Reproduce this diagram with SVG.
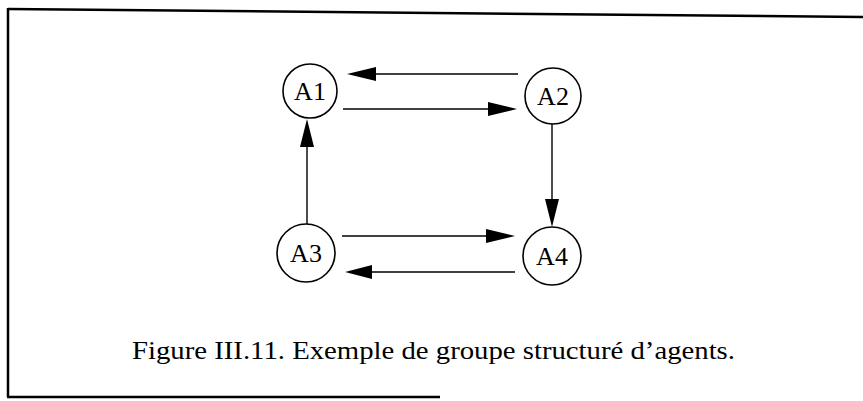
<svg xmlns="http://www.w3.org/2000/svg" width="863" height="401" viewBox="0 0 863 401">
<style>
.node circle{fill:#fff;stroke:#000;stroke-width:1.6}
.node text{font-family:"Liberation Serif","Times New Roman",serif;font-size:26px;fill:#000;text-anchor:middle}
.edge{stroke:#000;stroke-width:1.4;fill:none}
.head{fill:#000;stroke:none}
.frame{stroke:#000;stroke-width:2.5;fill:none}
.caption{font-family:"Liberation Serif","Times New Roman",serif;font-size:26px;fill:#000}
</style>
<rect x="0" y="0" width="863" height="401" fill="#fff"/>
<g id="frame">
<line class="frame" x1="8" y1="9" x2="863" y2="17"/>
<line class="frame" x1="8" y1="8" x2="8" y2="397"/>
<line class="frame" x1="7" y1="397" x2="440" y2="397"/>
</g>
<g id="connectors">
<line class="edge" x1="518" y1="74" x2="372" y2="74"/>
<polygon class="head" points="347,74 376,67 376,81"/>
<line class="edge" x1="343" y1="109" x2="490" y2="109"/>
<polygon class="head" points="517,109 488,102 488,116"/>
<line class="edge" x1="342" y1="236" x2="489" y2="236"/>
<polygon class="head" points="515,236 486,229 486,243"/>
<line class="edge" x1="515" y1="272" x2="368" y2="272"/>
<polygon class="head" points="345,272 372,265 372,279"/>
<line class="edge" x1="307" y1="224" x2="307" y2="144"/>
<polygon class="head" points="307,119 300,147 314,147"/>
<line class="edge" x1="552" y1="124" x2="552" y2="202"/>
<polygon class="head" points="552,227 545,199 559,199"/>
</g>
<g id="A1" class="node"><circle cx="310" cy="91" r="27"/><text x="310" y="100">A1</text></g>
<g id="A2" class="node"><circle cx="553" cy="96" r="28"/><text x="553" y="105">A2</text></g>
<g id="A3" class="node"><circle cx="306" cy="253" r="29"/><text x="306" y="262">A3</text></g>
<g id="A4" class="node"><circle cx="552" cy="256" r="29"/><text x="552" y="265">A4</text></g>
<text class="caption" x="132" y="359" textLength="603" lengthAdjust="spacingAndGlyphs">Figure III.11. Exemple de groupe structuré d’agents.</text>
</svg>
